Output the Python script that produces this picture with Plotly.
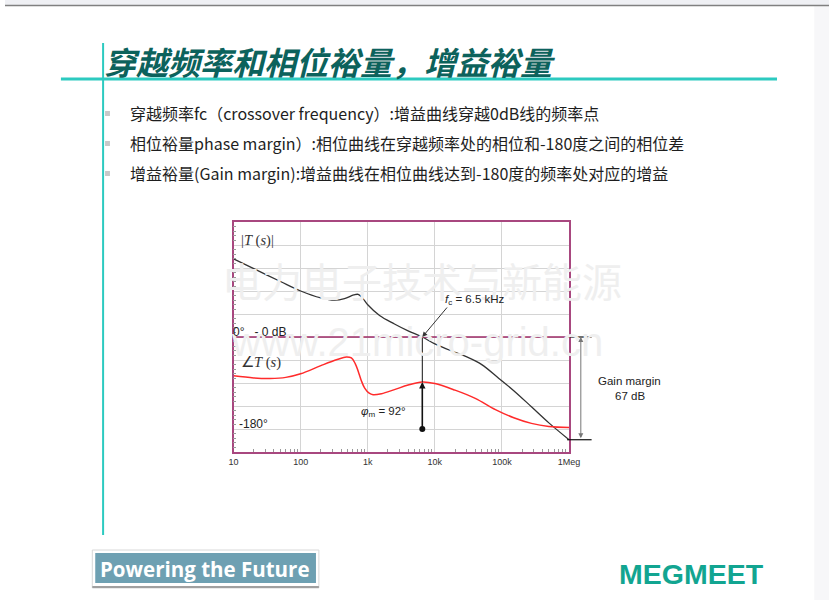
import math
import plotly.graph_objects as go

# Bode plot data
freq_mag = [10, 20, 50, 100, 200, 320, 450, 620, 720, 850, 1000, 1500, 2500, 4000,
            6500, 10000, 20000, 30000, 50000, 90000, 150000, 275000, 500000, 1000000]
gain_db = [51, 44.6, 36.2, 30, 25.5, 24, 25, 27.4, 27.8, 25, 21, 14, 8.5, 4,
           0, -4.5, -10, -13, -18, -27, -35, -45.5, -56, -67]

freq_ph = [10, 20, 35, 60, 100, 200, 350, 480, 570, 650, 720, 800, 900, 1050, 1200,
           1600, 2500, 4000, 6500, 10000, 20000, 40000, 80000, 150000, 275000, 500000, 1000000]
phase_deg = [-76, -80, -81, -79, -72, -56, -44, -39, -41, -52, -67, -85, -100, -110, -113,
             -111, -103, -94, -88, -91, -104, -120, -142, -158, -169, -175, -177]

fc_hz = 6500
pm_deg = 92
gm_db = 67

tick_vals = [10, 100, 1000, 10000, 100000, 1000000]
tick_text = ["10", "100", "1k", "10k", "100k", "1Meg"]

bullets = [
    "穿越频率fc（crossover frequency）:增益曲线穿越0dB线的频率点",
    "相位裕量phase margin）:相位曲线在穿越频率处的相位和-180度之间的相位差",
    "增益裕量(Gain margin):增益曲线在相位曲线达到-180度的频率处对应的增益",
]

W, H = 840, 600
CJK = "Noto Sans CJK SC"
BORDER = "#a8477f"


def px(x):
    return x / W


def py(y):
    return 1 - y / H


fig = go.Figure()

fig.add_trace(go.Scatter(x=freq_mag, y=gain_db, mode="lines", line=dict(color="#333333", width=1.3, shape="spline"),
                         hoverinfo="skip"))
fig.add_trace(go.Scatter(x=freq_ph, y=phase_deg, mode="lines", yaxis="y2",
                         line=dict(color="#ff2b2b", width=1.5, shape="spline"), hoverinfo="skip"))
# phase margin marker line + dot
phase_fc = -180 + pm_deg
fig.add_trace(go.Scatter(x=[fc_hz, fc_hz], y=[0, phase_fc], mode="lines", yaxis="y2",
                         line=dict(color="#111111", width=1), hoverinfo="skip"))
fig.add_trace(go.Scatter(x=[fc_hz], y=[-180], mode="markers", yaxis="y2",
                         marker=dict(color="#111111", size=6), hoverinfo="skip"))

minor_x = [m * d for d in [10, 100, 1000, 10000, 100000] for m in range(2, 10)]

fig.update_layout(
    width=W, height=H,
    margin=dict(l=0, r=0, t=0, b=0),
    paper_bgcolor="white", plot_bgcolor="white",
    showlegend=False,
    xaxis=dict(type="log", domain=[px(233), px(575)], range=[1, 6],
               tickmode="array", tickvals=tick_vals, ticktext=tick_text,
               tickfont=dict(family="Liberation Sans", size=9, color="#333"),
               showgrid=True, gridcolor="#d4d4d4", gridwidth=1,
               showline=True, linecolor=BORDER, linewidth=1.5, mirror=True,
               ticks="", zeroline=False,
               minor=dict(tickmode="array", tickvals=minor_x, ticks="inside", ticklen=3,
                          tickcolor="#999", showgrid=False)),
    yaxis=dict(domain=[py(452), py(222)], range=[-75, 75], dtick=15,
               showticklabels=False, showgrid=True, gridcolor="#d4d4d4",
               showline=True, linecolor=BORDER, linewidth=1.5, mirror=True,
               zeroline=False, ticks="",
               minor=dict(dtick=3, ticks="inside", ticklen=3, tickcolor="#999", showgrid=False)),
    yaxis2=dict(overlaying="y", range=[-225, 225], visible=False),
)

shapes = [
    # top band of the slide
    dict(type="rect", xref="paper", yref="paper", x0=0, x1=1, y0=py(5), y1=1,
         fillcolor="#eff0f4", line=dict(width=0), layer="below"),
    dict(type="line", xref="paper", yref="paper", x0=0, x1=1, y0=py(5.5), y1=py(5.5),
         line=dict(color="#808080", width=1.5)),
    dict(type="rect", xref="paper", yref="paper", x0=px(825), x1=1, y0=0, y1=py(6),
         fillcolor="#f7f7f9", line=dict(width=0), layer="below"),
    # teal frame lines
    dict(type="line", xref="paper", yref="paper", x0=px(57), x1=px(787), y0=py(79), y1=py(79),
         line=dict(color="#2ccac0", width=3)),
    dict(type="line", xref="paper", yref="paper", x0=px(100), x1=px(100), y0=py(43), y1=py(535),
         line=dict(color="#2ccac0", width=2)),
    # 0 dB line and gain margin guides
    dict(type="line", xref="paper", yref="y", x0=px(233), x1=px(575), y0=0, y1=0,
         line=dict(color="#9c2a66", width=1.5)),
    dict(type="line", xref="paper", yref="y", x0=px(575), x1=px(598), y0=0, y1=0,
         line=dict(color="#111", width=1.2)),
    dict(type="line", xref="paper", yref="y", x0=px(573), x1=px(598), y0=-gm_db, y1=-gm_db,
         line=dict(color="#111", width=1.2)),
    # footer box
    dict(type="rect", xref="paper", yref="paper", x0=px(89), x1=px(320), y0=py(588), y1=py(550),
         fillcolor="white", line=dict(color="#d8d8d8", width=1)),
    dict(type="line", xref="paper", yref="paper", x0=px(89), x1=px(320), y0=py(587), y1=py(587),
         line=dict(color="#a0a0a0", width=2)),
    dict(type="rect", xref="paper", yref="paper", x0=px(92), x1=px(317), y0=py(583), y1=py(553),
         fillcolor="#6ea0b2", line=dict(width=0)),
]
for yb in [113, 143, 173]:
    shapes.append(dict(type="rect", xref="paper", yref="paper", x0=px(102), x1=px(107),
                       y0=py(yb + 3), y1=py(yb - 2), fillcolor="#c8c8c8", line=dict(width=0)))
fig.update_layout(shapes=shapes)

ann = []


def text(x, y, s, size, color="#222", family="Liberation Sans", xanchor="left", **kw):
    ann.append(dict(x=px(x), y=py(y), xref="paper", yref="paper", text=s, showarrow=False,
                    xanchor=xanchor, yanchor="middle", font=dict(family=family, size=size, color=color), **kw))


# watermark
text(425, 280, "电力电子技术与新能源", 40, color="#efefef", family=CJK, xanchor="center")
text(420, 342, "www.21micro-grid.cn", 40, color="#efefef", xanchor="center")

# title and bullets
text(99, 61, "<b><i>穿越频率和相位裕量，增益裕量</i></b>", 32, color="#0c625c", family=CJK)
for i, b in enumerate(bullets):
    text(125, 113 + 30 * i, b, 16, color="#1e1e1e", family=CJK)

# chart labels
text(239, 241, "|<i>T</i> (<i>s</i>)|", 14.5, color="#333", family="Liberation Serif")
text(230, 332, "0°   - 0 dB", 12, color="#222")
text(239, 362, "∠<i>T</i> (<i>s</i>)", 14.5, color="#333", family="Liberation Serif")
text(237, 424, "-180°", 12, color="#222")
text(446, 300, "<i>f</i><sub>c</sub> = 6.5 kHz", 11.5, color="#222")
text(361, 412, "<i>φ</i><sub>m</sub> = 92°", 11.5, color="#222")
text(637, 381, "Gain margin", 11.5, color="#222", xanchor="center")
text(637, 396, "%d dB" % gm_db, 11.5, color="#222", xanchor="center")

# footer
text(204, 569, "<b>Powering the Future</b>", 20.5, color="white", family="Open Sans", xanchor="center")
text(700, 574, "<b>MEGMEET</b>", 28.5, color="#12a591", xanchor="center")

# arrows
ann.append(dict(x=math.log10(fc_hz), y=0, xref="x", yref="y", text="", showarrow=True,
                axref="pixel", ayref="pixel", ax=26, ay=-31, arrowhead=2, arrowsize=1,
                arrowwidth=1, arrowcolor="#333"))
ann.append(dict(x=math.log10(fc_hz), y=phase_fc, xref="x", yref="y2", text="", showarrow=True,
                axref="pixel", ayref="y2", ax=0, ay=-180, arrowhead=2, arrowsize=0.8,
                arrowwidth=1.6, arrowcolor="#111"))
ann.append(dict(x=px(587), y=0, xref="paper", yref="y", text="", showarrow=True,
                axref="pixel", ayref="y", ax=0, ay=-gm_db, arrowhead=2, startarrowhead=2,
                arrowside="end+start", arrowsize=1, arrowwidth=1, arrowcolor="#777"))
fig.update_layout(annotations=ann)

fig.write_html("out.html", config={"displayModeBar": False},
               post_script="document.body.style.margin='0';")
